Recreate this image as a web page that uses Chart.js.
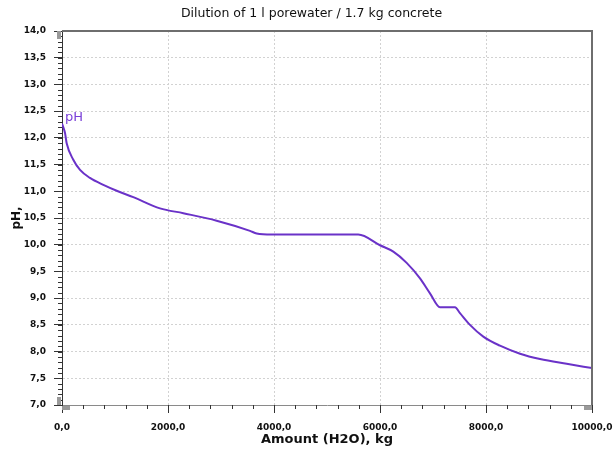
<!DOCTYPE html>
<html>
<head>
<meta charset="utf-8">
<script src="https://cdn.jsdelivr.net/npm/chart.js@4/dist/chart.umd.min.js"></script>
<style>
  html, body { margin: 0; padding: 0; background: #fff; }
  #wrap { width: 613px; height: 451px; }
</style>
</head>
<body>
<div id="wrap"><canvas id="c" width="613" height="451"></canvas></div>
<script>
// Amount of added water (kg) and resulting pH
const amountH2O = [0, 57, 88, 213, 340, 528, 780, 1032, 1345, 1849, 2289, 2918, 3547, 3673, 3956, 5590,
  6000, 6251, 6503, 6755, 6943, 7132, 7415, 7509, 7698, 7949, 8264, 8642, 9019, 9522, 10000];
const pHValues = [12.27, 12.09, 11.90, 11.59, 11.40, 11.25, 11.12, 11.01, 10.89, 10.68, 10.59, 10.45, 10.26, 10.21, 10.19, 10.19,
  9.99, 9.87, 9.66, 9.37, 9.09, 8.83, 8.83, 8.72, 8.50, 8.28, 8.11, 7.96, 7.86, 7.77, 7.69];
const seriesName = 'pH';
const chartTitle = 'Dilution of 1 l porewater / 1.7 kg concrete';
const xTitle = 'Amount (H2O), kg';
const yTitle = 'pH,';

const lineColor = '#6a32c8';
const tickFont = { family: 'DejaVu Sans', size: 9, weight: 'bold' };
const fmt = v => Number(v).toFixed(1).replace('.', ',');

// Minor tick marks, plot frame, scroll thumbs and series label
const decorations = {
  id: 'decorations',
  afterDraw(chart) {
    const { ctx, chartArea: a, scales: { x, y } } = chart;
    ctx.save();
    ctx.strokeStyle = '#333';
    ctx.lineWidth = 1;
    ctx.beginPath();
    for (let v = 7; v <= 14.0001; v += 0.1) {
      const py = Math.round(y.getPixelForValue(v)) + 0.5;
      ctx.moveTo(a.left - 4, py); ctx.lineTo(a.left, py);
    }
    for (let v = 0; v <= 10000; v += 400) {
      const px = Math.round(x.getPixelForValue(v)) + 0.5;
      ctx.moveTo(px, a.bottom); ctx.lineTo(px, a.bottom + 4);
    }
    ctx.stroke();

    // frame: top and right edges
    ctx.strokeStyle = '#6e6e6e';
    ctx.lineWidth = 2;
    ctx.beginPath();
    ctx.moveTo(a.left, a.top); ctx.lineTo(a.right, a.top); ctx.lineTo(a.right, a.bottom);
    ctx.stroke();

    // scroll thumbs at axis ends
    ctx.fillStyle = '#9a9a9a';
    ctx.fillRect(a.left - 5, a.top, 4, 8);
    ctx.fillRect(a.left - 5, a.bottom - 8, 4, 8);
    ctx.fillRect(a.left, a.bottom + 1, 8, 4);
    ctx.fillRect(a.right - 8, a.bottom + 1, 8, 4);

    // series label next to first point
    const px = x.getPixelForValue(amountH2O[0]);
    const py = y.getPixelForValue(pHValues[0]);
    ctx.fillStyle = '#7a40d8';
    ctx.font = '13px "DejaVu Sans"';
    ctx.textBaseline = 'bottom';
    ctx.fillText(seriesName, px + 3, py + 1);
    ctx.restore();
  }
};

new Chart(document.getElementById('c'), {
  type: 'line',
  data: {
    datasets: [{
      label: seriesName,
      data: amountH2O.map((v, i) => ({ x: v, y: pHValues[i] })),
      borderColor: lineColor,
      borderWidth: 2,
      pointRadius: 0,
      fill: false,
      cubicInterpolationMode: 'monotone'
    }]
  },
  options: {
    responsive: false,
    animation: false,
    layout: { padding: { left: 10, right: 0, top: 0, bottom: 0 } },
    plugins: {
      legend: { display: false },
      tooltip: { enabled: false },
      title: {
        display: true,
        text: chartTitle,
        color: '#111',
        font: { family: 'DejaVu Sans', size: 12.5, weight: 'normal' },
        padding: { top: 6, bottom: 10 }
      }
    },
    scales: {
      x: {
        type: 'linear',
        min: 0, max: 10000,
        afterFit: s => { s.height = 46; s.paddingRight = 21; },
        ticks: {
          stepSize: 2000,
          maxRotation: 0,
          color: '#111',
          font: tickFont,
          padding: 9,
          callback: v => fmt(v)
        },
        grid: {
          color: ctx => (ctx.tick && (ctx.tick.value === 0 || ctx.tick.value === 10000)) ? 'rgba(0,0,0,0)' : '#d2d2d2',
          tickColor: '#333',
          tickLength: 8,
          lineWidth: 1
        },
        border: { display: true, color: '#8a8a8a', dash: [2, 2], width: 1 },
        title: {
          display: true, text: xTitle, color: '#111',
          font: { family: 'DejaVu Sans', size: 13, weight: 'bold' },
          padding: { top: 4, bottom: 4 }
        }
      },
      y: {
        min: 7, max: 14,
        afterFit: s => { s.width = 52; },
        ticks: {
          stepSize: 0.5,
          color: '#111',
          font: tickFont,
          padding: 8,
          callback: v => fmt(v)
        },
        grid: {
          color: ctx => (ctx.tick && (ctx.tick.value === 7 || ctx.tick.value === 14)) ? 'rgba(0,0,0,0)' : '#d2d2d2',
          tickColor: '#333',
          tickLength: 8,
          lineWidth: 1
        },
        border: { display: true, color: '#333', dash: [2, 2], width: 1 },
        title: {
          display: true, text: yTitle, color: '#111',
          font: { family: 'DejaVu Sans', size: 12, weight: 'bold' },
          padding: { top: 0, bottom: 4 }
        }
      }
    }
  },
  plugins: [decorations]
});
</script>
</body>
</html>
